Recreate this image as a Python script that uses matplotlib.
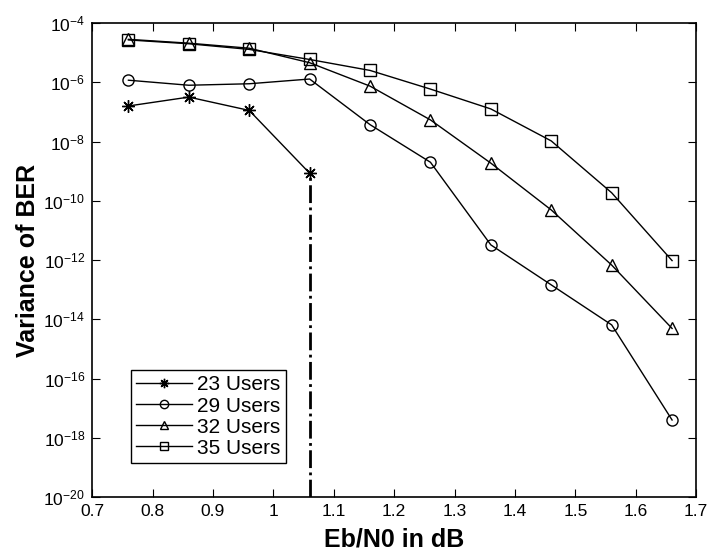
import numpy as np
import matplotlib.pyplot as plt
from matplotlib.ticker import LogLocator, NullLocator

plt.rcParams['font.family'] = ['Liberation Sans', 'DejaVu Sans']

# Eb/N0 values (dB)
ebn0 = [0.76, 0.86, 0.96, 1.06, 1.16, 1.26, 1.36, 1.46, 1.56, 1.66]

# log10 of variance of BER
users23 = [-6.80, -6.50, -6.95, -9.07]
users29 = [-5.93, -6.10, -6.05, -5.89, -7.43, -8.70, -11.49, -12.84, -14.19, -17.40]
users32 = [-4.55, -4.68, -4.85, -5.34, -6.13, -7.27, -8.73, -10.31, -12.17, -14.31]
users35 = [-4.57, -4.70, -4.89, -5.23, -5.60, -6.23, -6.90, -7.98, -9.73, -12.02]

fig = plt.figure(figsize=(7.09, 5.55), dpi=100)
ax = fig.add_axes([0.130, 0.1045, 0.852, 0.854])

ms = 8
star = (8, 2, 0)  # thin 8-arm asterisk like matlab
ax.semilogy(ebn0[:4], 10.0 ** np.array(users23), '-', marker=star,
            color='black', lw=1, ms=9, mew=1, label='23 Users')
ax.semilogy(ebn0, 10.0 ** np.array(users29), '-o', color='black', lw=1,
            ms=ms, mfc='none', label='29 Users')
ax.semilogy(ebn0, 10.0 ** np.array(users32), '-^', color='black', lw=1,
            ms=ms, mfc='none', label='32 Users')
ax.semilogy(ebn0, 10.0 ** np.array(users35), '-s', color='black', lw=1,
            ms=ms, mfc='none', label='35 Users')

# dash-dot drop line under the last 23-user point
ax.plot([ebn0[3], ebn0[3]], [1e-20, 10.0 ** users23[3]], color='black',
        lw=2, ls='-.')

ax.set_xlim(0.7, 1.7)
ax.set_ylim(1e-20, 1e-4)
ax.set_xticks(np.arange(0.7, 1.71, 0.1))
ax.set_xticklabels(['0.7', '0.8', '0.9', '1', '1.1', '1.2', '1.3', '1.4',
                    '1.5', '1.6', '1.7'])
ax.yaxis.set_major_locator(LogLocator(base=100.0, numticks=20))
ax.yaxis.set_minor_locator(NullLocator())
ax.tick_params(direction='in', top=True, right=True, labelsize=12.5,
               length=6, pad=5)
for s in ax.spines.values():
    s.set_linewidth(1.2)

ax.set_xlabel('Eb/N0 in dB', fontsize=18, fontweight='bold')
ax.set_ylabel('Variance of BER', fontsize=18, fontweight='bold')
ax.xaxis.set_label_coords(0.5, -0.064)
ax.yaxis.set_label_coords(-0.086, 0.5)

leg = ax.legend(loc='lower left', bbox_to_anchor=(0.064, 0.072), fontsize=15,
                fancybox=False, edgecolor='black', framealpha=1,
                handlelength=2.7, handletextpad=0.25, borderpad=0.25,
                labelspacing=0.1, markerscale=0.75, borderaxespad=0)
leg.get_frame().set_linewidth(1)

fig.savefig('out.png', dpi=100)
